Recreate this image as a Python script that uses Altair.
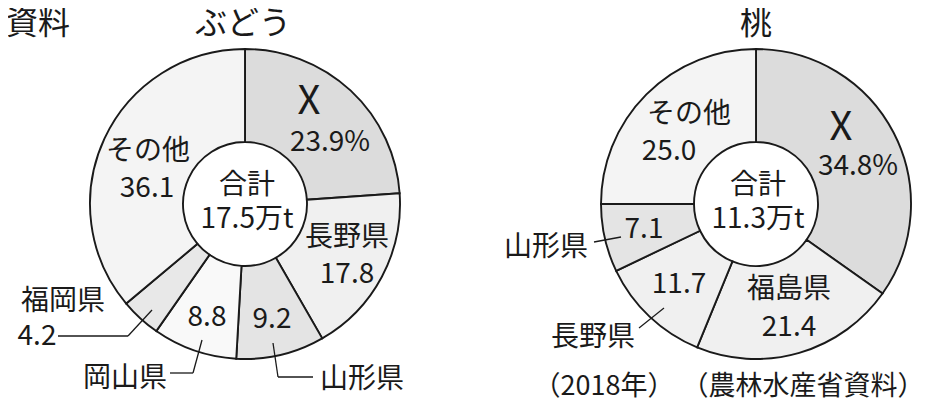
import altair as alt
import pandas as pd

# ---- data ----
grape_names = ["X", "長野県", "山形県", "岡山県", "福岡県", "その他"]
grape_values = [23.9, 17.8, 9.2, 8.8, 4.2, 36.1]
grape_total = "17.5万t"

peach_names = ["X", "福島県", "長野県", "山形県", "その他"]
peach_values = [34.8, 21.4, 11.7, 7.1, 25.0]
peach_total = "11.3万t"

# ---- styles ----
grape_fills = ["#dcdcdc", "#f0f0f0", "#e4e4e4", "#f9f9f9", "#e8e8e8", "#f4f4f4"]
peach_fills = ["#dcdcdc", "#f0f0f0", "#f0f0f0", "#e4e4e4", "#f4f4f4"]
FONT = "Noto Sans CJK JP"
M = 8  # page margin
W, H = 932 - 2 * M, 412 - 2 * M
R_OUT, R_IN = 155, 62
GC = (245 - M, 204 - M)
PC = (756 - M, 204 - M)


def fmt(name, v):
    return f"{v:.1f}%" if name == "X" else f"{v:.1f}"


def donut(names, values, fills, center):
    df = pd.DataFrame({"name": names, "value": values, "fill": fills,
                       "idx": list(range(len(names)))})
    return alt.Chart(df).mark_arc(radius=R_OUT, radius2=R_IN, stroke="#1a1a1a",
                                  strokeWidth=1.9).encode(
        theta=alt.Theta("value:Q", stack=True),
        order=alt.Order("idx:Q"),
        color=alt.Color("fill:N", scale=None),
        x=alt.value(center[0]),
        y=alt.value(center[1]),
    )


# label placement (page pixel coordinates of text centres)
gv = dict(zip(grape_names, grape_values))
pv = dict(zip(peach_names, peach_values))
labels = [
    # text, x, y, size
    ("資料", 38, 24, 32), ("ぶどう", 243, 24, 32), ("桃", 756, 24, 32),
    ("X", 309, 102, 40), (fmt("X", gv["X"]), 330, 143, 28),
    ("長野県", 347, 238, 28), (fmt("", gv["長野県"]), 347, 275, 28),
    (fmt("", gv["山形県"]), 272, 320, 28), ("山形県", 362, 380, 28),
    (fmt("", gv["岡山県"]), 207, 318, 28), ("岡山県", 125, 379, 28),
    ("福岡県", 63, 302, 28), (fmt("", gv["福岡県"]), 37, 337, 28),
    ("その他", 148, 152, 28), (fmt("", gv["その他"]), 147, 189, 28),
    ("合計", 247, 186, 28), (grape_total, 247, 220, 28),
    ("X", 841, 128, 40), (fmt("X", pv["X"]), 858, 167, 28),
    ("福島県", 789, 290, 28), (fmt("", pv["福島県"]), 789, 328, 28),
    (fmt("", pv["長野県"]), 679, 285, 28), ("長野県", 593, 338, 28),
    (fmt("", pv["山形県"]), 644, 230, 28), ("山形県", 546, 248, 28),
    ("その他", 689, 115, 28), (fmt("", pv["その他"]), 669, 152, 28),
    ("合計", 758, 186, 28), (peach_total, 758, 220, 28),
    ("（2018年）", 604, 387, 27), ("（農林水産省資料）", 803, 387, 27),
]
ldf = pd.DataFrame(labels, columns=["text", "x", "y", "size"])
ldf["x"] -= M
ldf["y"] -= M

text_layer = alt.Chart(ldf).mark_text(font=FONT, baseline="middle", align="center",
                                      color="#1a1a1a").encode(
    x=alt.X("x:Q", scale=None),
    y=alt.Y("y:Q", scale=None),
    text="text:N",
    size=alt.Size("size:Q", scale=None),
)

# leader lines (page pixel coordinates)
leaders = [
    (58, 336, 128, 336), (128, 336, 152, 310),
    (170, 373, 193, 373), (193, 373, 202, 340),
    (273, 343, 278, 377), (278, 377, 313, 377),
    (594, 242, 621, 237),
    (639, 328, 664, 308),
]
rdf = pd.DataFrame(leaders, columns=["x", "y", "x2", "y2"]) - M
rule_layer = alt.Chart(rdf).mark_rule(color="#1a1a1a", strokeWidth=1.3).encode(
    x=alt.X("x:Q", scale=None), y=alt.Y("y:Q", scale=None),
    x2="x2:Q", y2="y2:Q",
)

chart = alt.layer(
    donut(grape_names, grape_values, grape_fills, GC),
    donut(peach_names, peach_values, peach_fills, PC),
    rule_layer,
    text_layer,
).resolve_scale(theta="independent").properties(
    width=W, height=H, autosize="none", padding=0,
    background="white",
).configure_view(stroke=None)

chart.save("out.html", embed_options={"renderer": "svg", "actions": False})
